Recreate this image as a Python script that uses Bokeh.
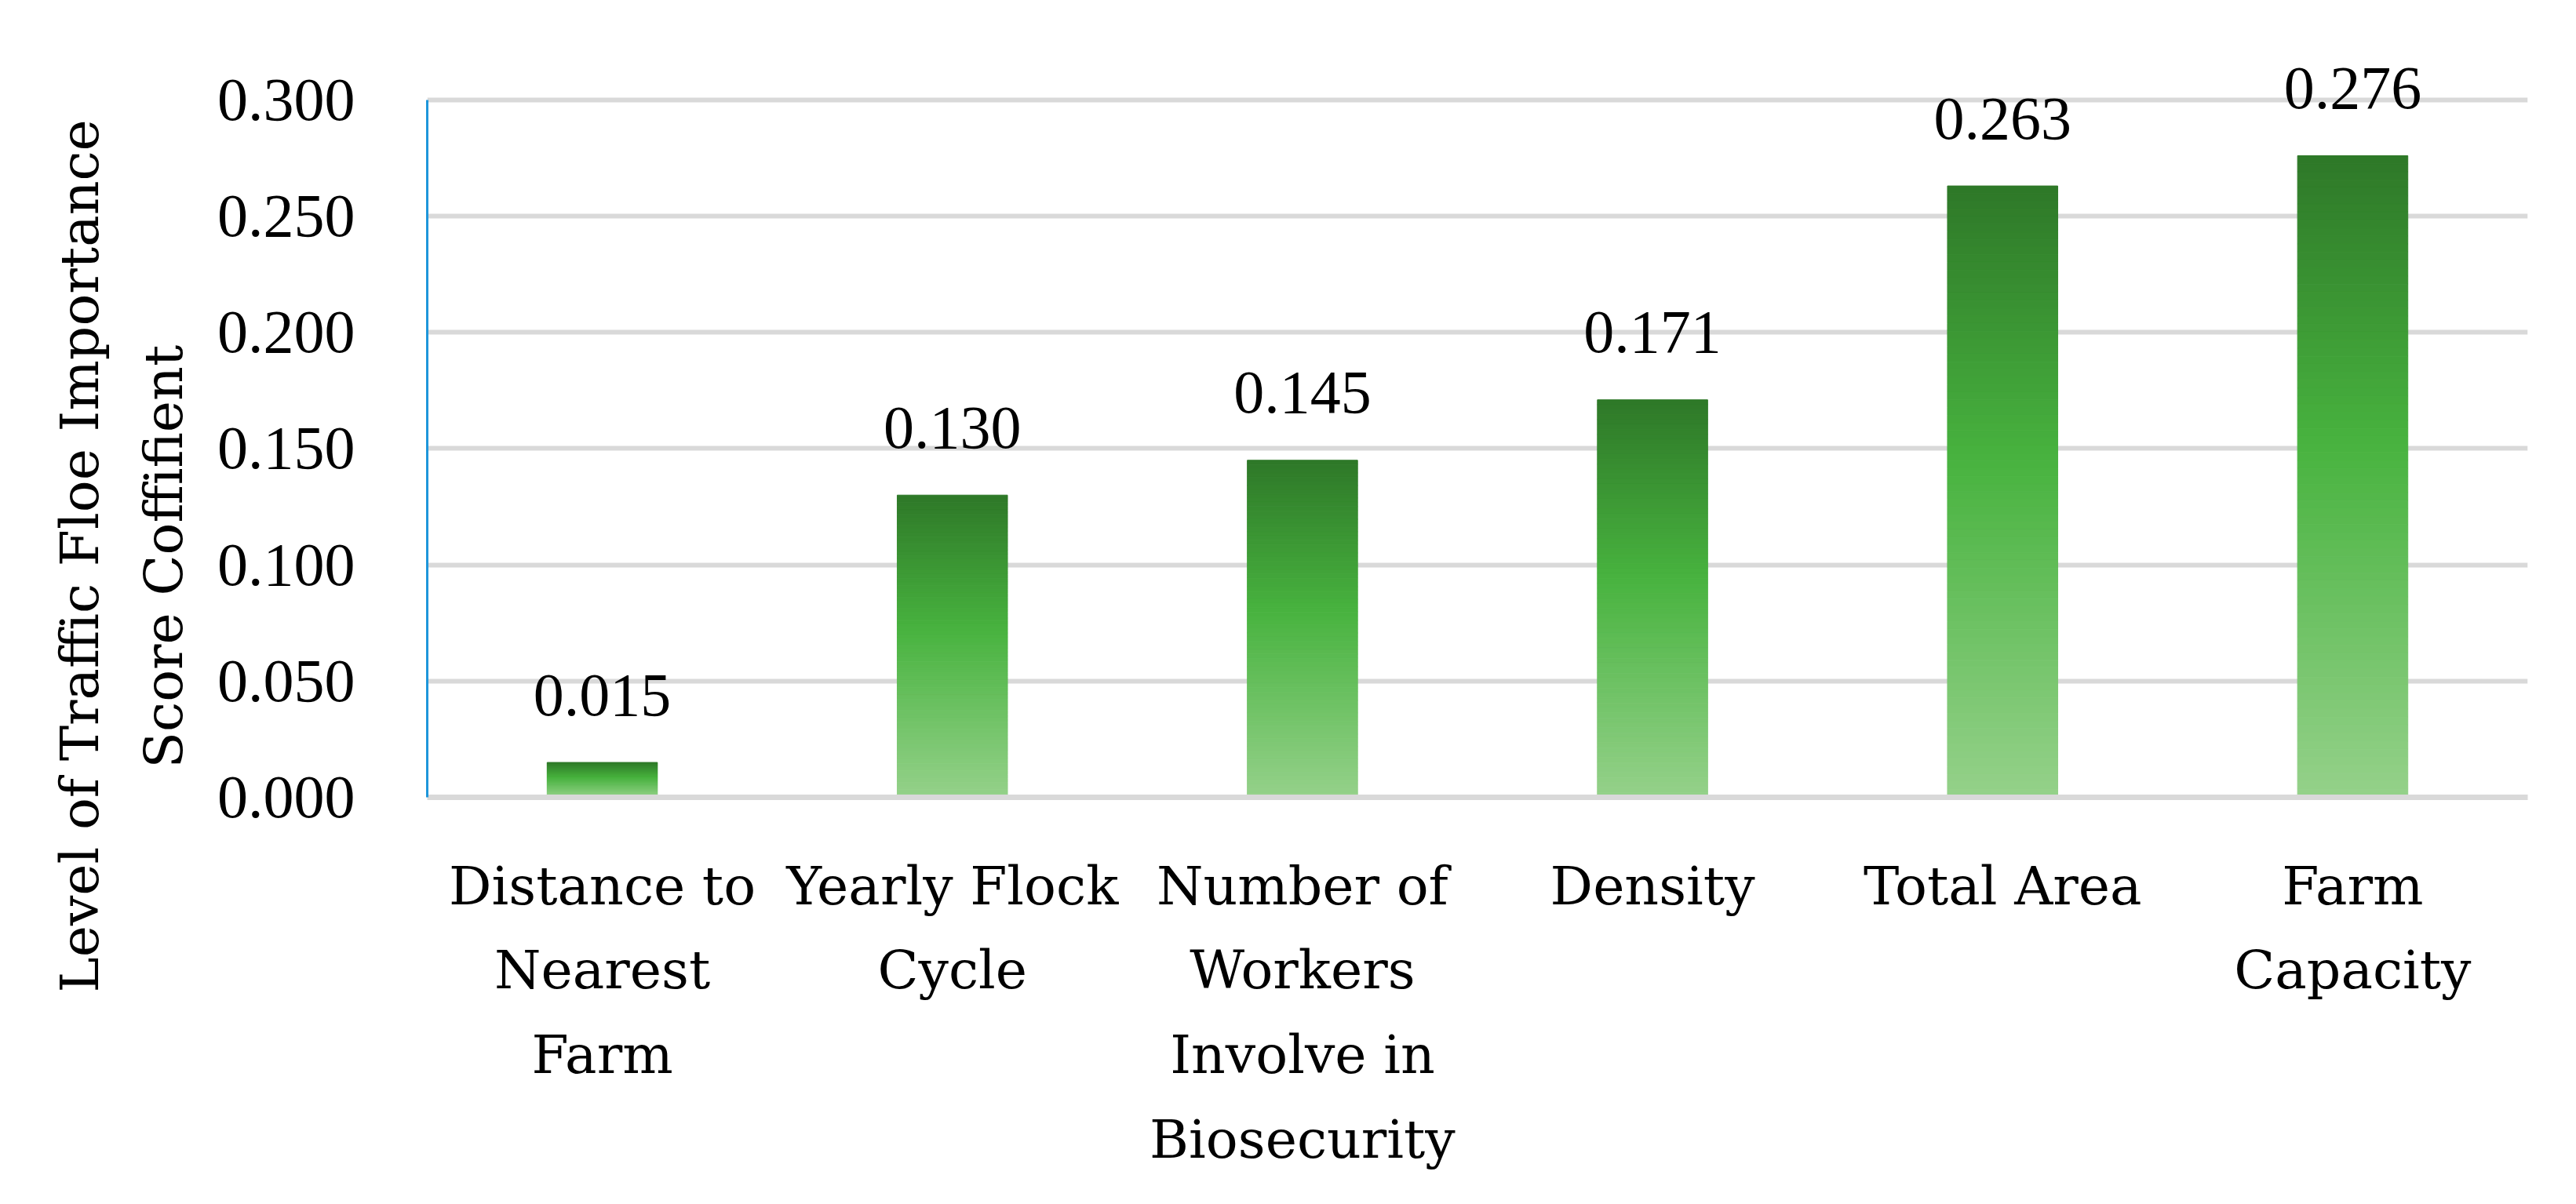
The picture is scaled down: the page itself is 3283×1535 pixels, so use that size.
from bokeh.plotting import figure
from bokeh.models import ColumnDataSource, Range1d, FactorRange, FixedTicker, PrintfTickFormatter, Title
from bokeh.core.properties import value
from bokeh.embed import file_html
from bokeh.resources import INLINE

# ---- data ----
categories = [
    "Distance to\nNearest\nFarm",
    "Yearly Flock\nCycle",
    "Number of\nWorkers\nInvolve in\nBiosecurity",
    "Density",
    "Total Area",
    "Farm\nCapacity",
]
scores = [0.015, 0.130, 0.145, 0.171, 0.263, 0.276]
y_ticks = [0.0, 0.05, 0.10, 0.15, 0.20, 0.25, 0.30]
y_title_1 = "Level of Traffic Floe Importance"
y_title_2 = "Score Coffifient"

# ---- style ----
WORD_FONT = "DejaVu Serif"
NUM_FONT = "Liberation Serif"
GRID = "#D9D9D9"
TOP_C = (46, 120, 40)
MID_C = (72, 179, 63)
BOT_C = (149, 209, 138)
MID_POS = 0.45
N_SEG = 80


def grad_color(t):
    # t = 0 at bar top, 1 at bar bottom
    if t <= MID_POS:
        a, b, f = TOP_C, MID_C, t / MID_POS
    else:
        a, b, f = MID_C, BOT_C, (t - MID_POS) / (1 - MID_POS)
    c = tuple(int(round(a[i] + (b[i] - a[i]) * f)) for i in range(3))
    return "#%02x%02x%02x" % c


p = figure(
    width=3267, height=1519,
    frame_width=2677, frame_height=978,
    x_range=FactorRange(*categories, range_padding=0),
    y_range=Range1d(0, 0.33),
    output_backend="svg", toolbar_location=None,
    min_border_left=544, min_border_right=46,
    min_border_top=38, min_border_bottom=503,
)
p.outline_line_color = None
p.background_fill_color = "white"
p.border_fill_color = "white"

# gradient bars: each bar built from thin stacked slices of its own value
xs, bots, tops, cols = [], [], [], []
for cat, v in zip(categories, scores):
    for k in range(N_SEG):
        xs.append(cat)
        bots.append(v * (N_SEG - k - 1) / N_SEG)
        tops.append(v * (N_SEG - k) / N_SEG)
        cols.append(grad_color((k + 0.5) / N_SEG))
src = ColumnDataSource(dict(x=xs, bottom=bots, top=tops, color=cols))
p.vbar(x="x", bottom="bottom", top="top", width=0.315, source=src,
       fill_color="color", line_color="color", line_width=1)

# data labels
lab_src = ColumnDataSource(dict(x=categories, y=scores, t=["%.3f" % v for v in scores]))
p.text(x="x", y="y", text="t", source=lab_src, y_offset=-86,
       text_align="center", text_baseline="alphabetic",
       text_font=value(NUM_FONT), text_font_size="78px", text_color="#000000")

# grid
p.xgrid.grid_line_color = None
p.ygrid.grid_line_color = GRID
p.ygrid.grid_line_width = 6
p.ygrid.ticker = FixedTicker(ticks=y_ticks)

# y axis
ya = p.yaxis[0]
ya.ticker = FixedTicker(ticks=y_ticks)
ya.formatter = PrintfTickFormatter(format="%.3f")
ya.bounds = (0, 0.3)
ya.axis_line_color = "#1E96DA"
ya.axis_line_width = 3
ya.major_tick_line_color = None
ya.minor_tick_line_color = None
ya.major_label_standoff = 86
ya.major_label_text_font = NUM_FONT
ya.major_label_text_font_size = "78px"
ya.major_label_text_color = "#000000"

# x axis
xa = p.xaxis[0]
xa.axis_line_color = GRID
xa.axis_line_width = 7
xa.major_tick_line_color = None
xa.minor_tick_line_color = None
xa.major_label_standoff = 67
xa.major_label_text_font = WORD_FONT
xa.major_label_text_font_size = "68px"
xa.major_label_text_color = "#000000"
xa.major_label_text_line_height = 1.366
xa.major_label_orientation = "horizontal"

# y axis title: two centred lines, placed in the left side panel
for txt, off, so in ((y_title_2, 37, 52), (y_title_1, -249, 0)):
    p.add_layout(Title(text=txt, align="left", offset=off, standoff=so,
                       text_font=WORD_FONT, text_font_size="68px",
                       text_font_style="normal", text_color="#000000"), "left")

open("out.html", "w").write(file_html(p, INLINE))
